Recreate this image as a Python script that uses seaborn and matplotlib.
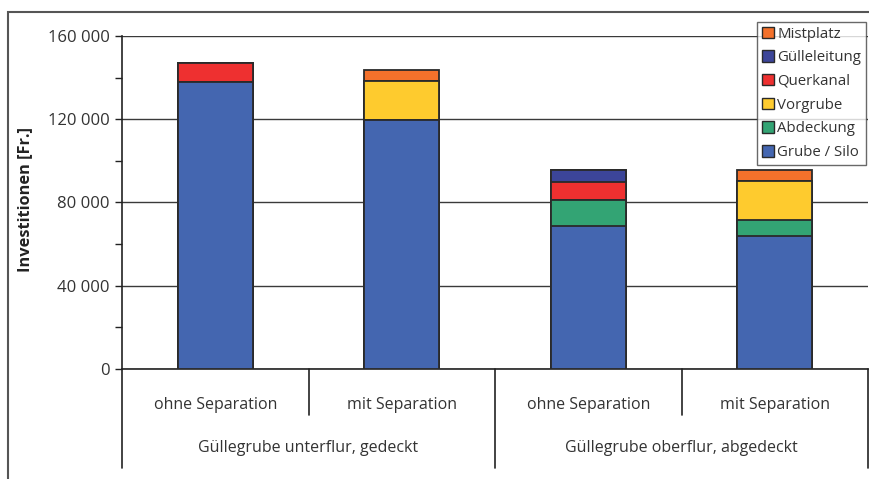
import matplotlib
matplotlib.use("Agg")
import matplotlib.pyplot as plt
from matplotlib.patches import Rectangle
from matplotlib.lines import Line2D
from matplotlib.ticker import FuncFormatter, MultipleLocator
import seaborn as sns
import pandas as pd

# Data: investment per cost component [Fr.]
bars = ["unterflur_ohne", "unterflur_mit", "oberflur_ohne", "oberflur_mit"]
sub_labels = ["ohne Separation", "mit Separation", "ohne Separation", "mit Separation"]
group_labels = ["Güllegrube unterflur, gedeckt", "Güllegrube oberflur, abgedeckt"]

components = ["Grube / Silo", "Abdeckung", "Vorgrube", "Querkanal", "Gülleleitung", "Mistplatz"]
grube_silo   = [138000, 119500, 68500, 64000]
abdeckung    = [0, 0, 12500, 7500]
vorgrube     = [0, 19000, 0, 19000]
querkanal    = [9000, 0, 9000, 0]
guelleleitung = [0, 0, 5500, 0]
mistplatz    = [0, 5000, 0, 5000]
values = [grube_silo, abdeckung, vorgrube, querkanal, guelleleitung, mistplatz]
colors = ["#4466B0", "#33A474", "#FECB2E", "#EE3030", "#3C4599", "#F4712B"]

df = pd.DataFrame({c: v for c, v in zip(components, values)}, index=bars)
cum = df.cumsum(axis=1)

sns.set_theme(style="white")
plt.rcParams["font.family"] = ["Open Sans", "DejaVu Sans"]
text_col = "#333333"

W, H = 869, 479
fig = plt.figure(figsize=(W / 100, H / 100), dpi=100)
ax = fig.add_axes([122 / W, 1 - 369 / H, 746 / W, 333 / H])

# stacked bars: draw cumulative totals from the top component down
for comp, col in zip(components[::-1], colors[::-1]):
    plot_df = pd.DataFrame({"bar": bars, "total": cum[comp].values})
    sns.barplot(data=plot_df, x="bar", y="total", order=bars, color=col,
                width=0.4, edgecolor="#2a2a2a", linewidth=1.3,
                saturation=1, ax=ax, zorder=3)

ax.set_xlim(-0.5, 3.5)
ax.set_ylim(0, 160000)
ax.yaxis.set_major_locator(MultipleLocator(40000))
ax.yaxis.set_minor_locator(MultipleLocator(20000))
ax.yaxis.set_major_formatter(FuncFormatter(lambda v, p: f"{int(v):,}".replace(",", " ")))
ax.tick_params(axis="y", which="both", direction="out", length=5, width=1,
               color="#222222", left=True, labelsize=12, labelcolor=text_col, pad=4)
ax.tick_params(axis="x", bottom=False, labelbottom=False)
ax.grid(axis="y", color="#3a3a3a", linewidth=1, zorder=0)
ax.set_axisbelow(True)
for s in ["top", "right"]:
    ax.spines[s].set_visible(False)
for s in ["left", "bottom"]:
    ax.spines[s].set_color("#222222")
    ax.spines[s].set_linewidth(1.2)
ax.set_xlabel("")
ax.set_ylabel("")

fig.text(25 / W, 1 - 200 / H, "Investitionen [Fr.]", rotation=90, ha="center",
         va="center", fontsize=11.8, fontweight="bold", color="#222222")

# hierarchical category axis
trans = ax.get_xaxis_transform()
y_short = (369 - 415) / 333
y_long = (369 - 468) / 333
for xs in [-0.5, 1.5, 3.5]:
    ax.add_line(Line2D([xs, xs], [0, y_long], transform=trans, color="#222222",
                       linewidth=1.2, clip_on=False))
for xs in [0.5, 2.5]:
    ax.add_line(Line2D([xs, xs], [0, y_short], transform=trans, color="#222222",
                       linewidth=1.2, clip_on=False))
for i, lab in enumerate(sub_labels):
    ax.text(i, (369 - 405) / 333, lab, transform=trans, ha="center", va="center",
            fontsize=11.5, color=text_col)
for i, lab in enumerate(group_labels):
    ax.text(0.5 + 2 * i, (369 - 448) / 333, lab, transform=trans, ha="center",
            va="center", fontsize=11.5, color=text_col)

# legend, top component first
handles = [Rectangle((0, 0), 1, 1, facecolor=c, edgecolor="#2a2a2a", linewidth=1)
           for c in colors[::-1]]
leg = fig.legend(handles, components[::-1], loc="upper left",
                 bbox_to_anchor=(757 / W, 1 - 22 / H), frameon=True, fancybox=False,
                 fontsize=10.8, handlelength=0.8, handleheight=0.8, handletextpad=0.25,
                 labelspacing=0.58, borderpad=0.3, borderaxespad=0, labelcolor=text_col)
leg.get_frame().set_edgecolor("#444444")
leg.get_frame().set_linewidth(1)
leg.set_zorder(10)

# outer frame of the figure
fig.patches.append(Rectangle((8 / W, -0.1), 1.2, 1 - 12 / H + 0.1, transform=fig.transFigure,
                             fill=False, edgecolor="#555555", linewidth=1.5))

fig.savefig("out.png", dpi=100)
